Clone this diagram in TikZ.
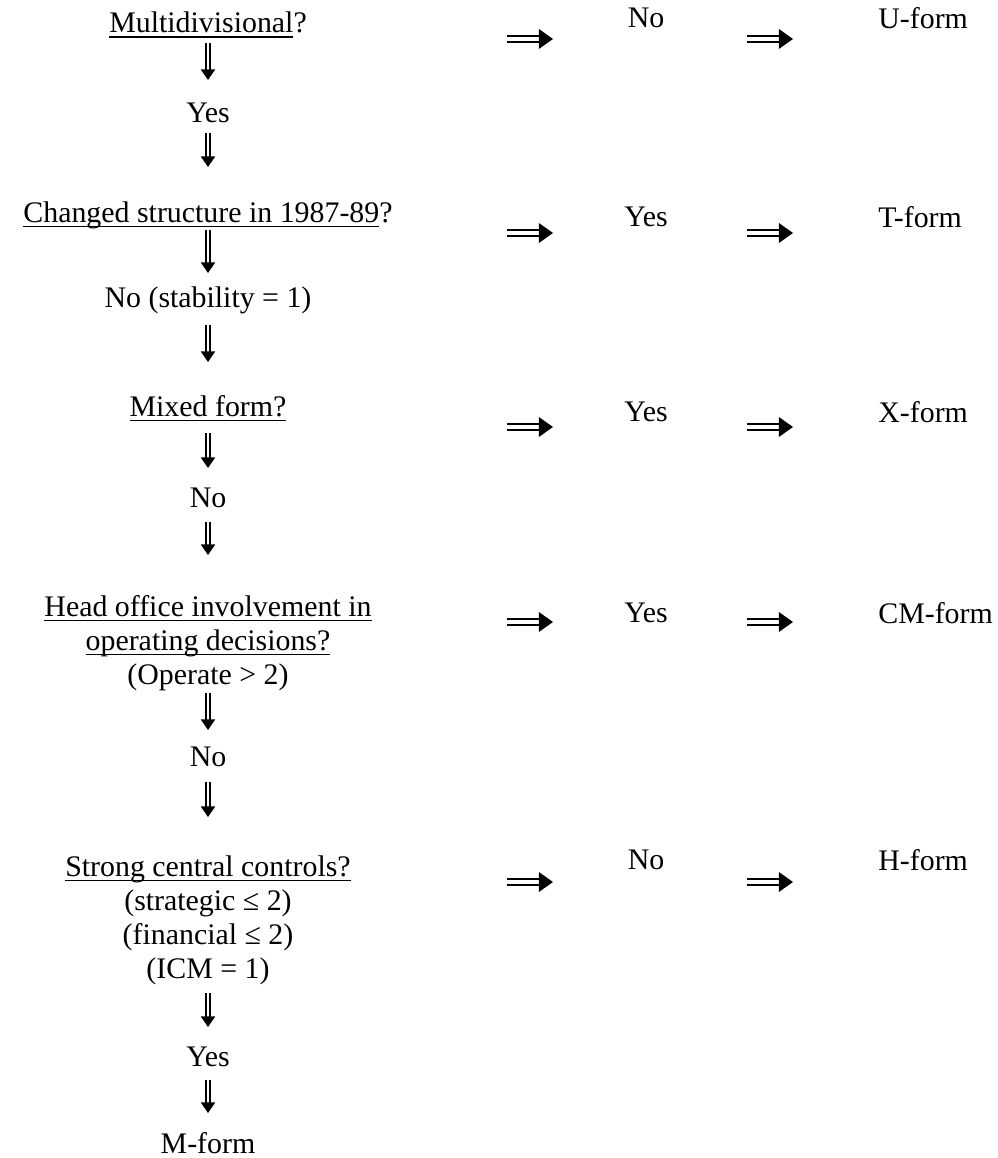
\documentclass[tikz,border=0pt]{standalone}
\usepackage{fontspec}
\setmainfont{Liberation Serif}
\usepackage{tikz}
\usetikzlibrary{arrows.meta,positioning}
% underline at a fixed depth, descenders run through it
\newcommand{\undl}[1]{\setbox0\hbox{#1}\rlap{\rule[-0.1cm]{\wd0}{0.85pt}}\box0}

\begin{document}
\begin{tikzpicture}[x=0.02cm,y=-0.02cm,
    txt/.style={inner sep=0pt,align=center,font=\fontsize{17}{19.3}\selectfont},
    downarr/.style={double,double distance=1.5pt,line width=0.95pt,-{Triangle[width=8pt,length=6pt]}},
    rightarr/.style={double,double distance=2pt,line width=1.3pt,-{Triangle[width=11pt,length=8pt]}}]
    \useasboundingbox (0,0) rectangle (997,1158);
    % questions and answers down the left
    \node[txt] (q1) at (208,25) {\undl{Multidivisional}?};
    \node[txt] (y1) at (208,113) {Yes};
    \node[txt] (q2) at (208,215) {\undl{Changed structure in 1987-89}?};
    \node[txt] (n2) at (208,300) {No (stability = 1)};
    \node[txt] (q3) at (208,408) {\undl{Mixed form?}};
    \node[txt] (n3) at (208,498) {No};
    \node[txt] (q4) at (208,643) {\undl{Head office involvement in}\\\undl{operating decisions?}\\(Operate > 2)};
    \node[txt] (n4) at (208,757) {No};
    \node[txt] (q5) at (208,920) {\undl{Strong central controls?}\\(strategic ≤ 2)\\(financial ≤ 2)\\(ICM = 1)};
    \node[txt] (y5) at (208,1057) {Yes};
    \node[txt] (m5) at (208,1143) {M-form};
    % answers in the middle
    \node[txt] (a1) at (646,18) {No};
    \node[txt] (a2) at (646,217) {Yes};
    \node[txt] (a3) at (646,412) {Yes};
    \node[txt] (a4) at (646,613) {Yes};
    \node[txt] (a5) at (646,860) {No};
    % forms on the right
    \node[txt,anchor=west] (f1) at (878,18) {U-form};
    \node[txt,anchor=west] (f2) at (878,217) {T-form};
    \node[txt,anchor=west] (f3) at (878,412) {X-form};
    \node[txt,anchor=west] (f4) at (878,613) {CM-form};
    \node[txt,anchor=west] (f5) at (878,860) {H-form};
    % down arrows
    \draw[downarr,shorten <=0.36cm,shorten >=0.66cm] (q1.center) -- (y1.center);
    \draw[downarr,shorten <=0.40cm,shorten >=0.96cm] (y1.center) -- (q2.center);
    \draw[downarr,shorten <=0.30cm,shorten >=0.54cm] (q2.center) -- (n2.center);
    \draw[downarr,shorten <=0.50cm,shorten >=0.92cm] (n2.center) -- (q3.center);
    \draw[downarr,shorten <=0.50cm,shorten >=0.60cm] (q3.center) -- (n3.center);
    \draw[downarr,shorten <=0.48cm,shorten >=1.76cm] (n3.center) -- (q4.center);
    \draw[downarr,shorten <=1.00cm,shorten >=0.54cm] (q4.center) -- (n4.center);
    \draw[downarr,shorten <=0.50cm,shorten >=2.06cm] (n4.center) -- (q5.center);
    \draw[downarr,shorten <=1.46cm,shorten >=0.60cm] (q5.center) -- (y5.center);
    \draw[downarr,shorten <=0.46cm,shorten >=0.60cm] (y5.center) -- (m5.center);
    % arrow ends across
    \coordinate (s1) at (507,39);  \coordinate (t1) at (553,39);
    \coordinate (u1) at (747,39);  \coordinate (v1) at (793,39);
    \coordinate (s2) at (507,233); \coordinate (t2) at (553,233);
    \coordinate (u2) at (747,233); \coordinate (v2) at (793,233);
    \coordinate (s3) at (507,427); \coordinate (t3) at (553,427);
    \coordinate (u3) at (747,427); \coordinate (v3) at (793,427);
    \coordinate (s4) at (507,622); \coordinate (t4) at (553,622);
    \coordinate (u4) at (747,622); \coordinate (v4) at (793,622);
    \coordinate (s5) at (507,882); \coordinate (t5) at (553,882);
    \coordinate (u5) at (747,882); \coordinate (v5) at (793,882);
    % arrows across
    \draw[rightarr] (s1) -- (t1);
    \draw[rightarr] (u1) -- (v1);
    \draw[rightarr] (s2) -- (t2);
    \draw[rightarr] (u2) -- (v2);
    \draw[rightarr] (s3) -- (t3);
    \draw[rightarr] (u3) -- (v3);
    \draw[rightarr] (s4) -- (t4);
    \draw[rightarr] (u4) -- (v4);
    \draw[rightarr] (s5) -- (t5);
    \draw[rightarr] (u5) -- (v5);
\end{tikzpicture}
\end{document}
